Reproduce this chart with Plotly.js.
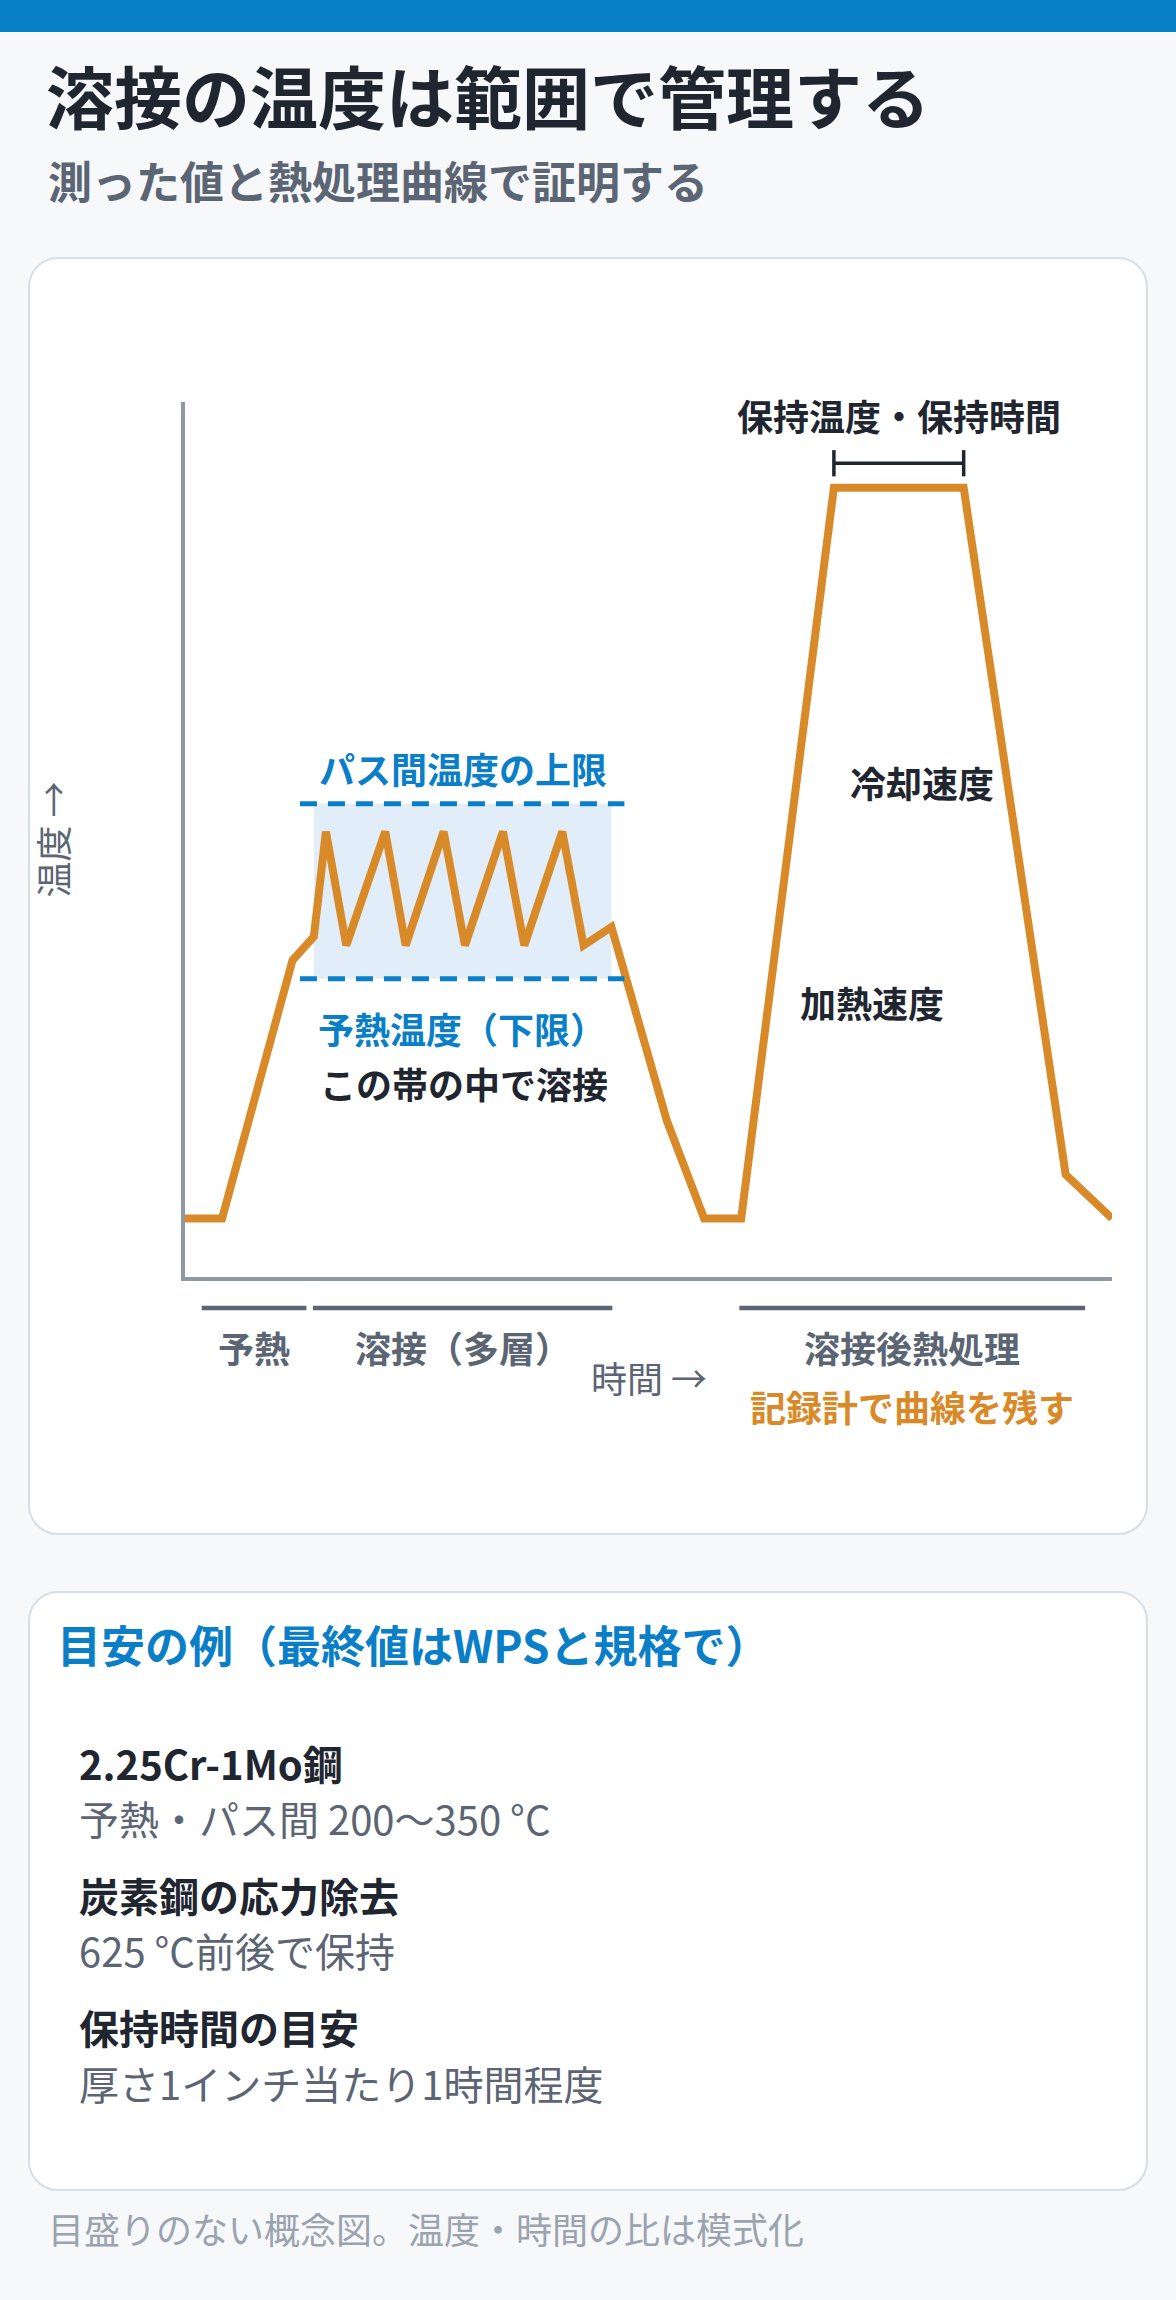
<!DOCTYPE html>
<html>
<head>
<meta charset="utf-8">
<script src="https://cdn.plot.ly/plotly-3.0.1.min.js"></script>
<style>
  html, body { margin:0; padding:0; }
  body { width:1176px; height:2300px; background:#F6F8FA; position:relative; overflow:hidden;
         font-family:"Noto Sans CJK JP","Noto Sans",sans-serif; }
  .bar { position:absolute; left:0; top:0; width:1176px; height:32px; background:#0880C8; }
  .t { position:absolute; white-space:nowrap; line-height:1; }
  .card { position:absolute; left:28px; width:1116px; background:#FFFFFF; border:2.5px solid #D6DEE6; border-radius:30px; box-sizing:content-box; }
  #chart { position:absolute; left:0; top:0; width:1176px; height:1600px; }
</style>
</head>
<body>
<div class="bar"></div>
<div class="t" id="title" style="left:46px; top:61px; font-size:68px; font-weight:700; color:#1F2630;"></div>
<div class="t" id="subtitle" style="left:48px; top:158px; font-size:44px; font-weight:700; color:#5B6573;"></div>

<div class="card" style="top:257px; height:1274px;"></div>
<div class="card" style="top:1591px; height:596px;"></div>

<div id="chart"></div>

<div class="t" id="noteHead" style="left:57px; top:1622px; font-size:44px; font-weight:700; color:#0A7FC7;"></div>
<div id="notes"></div>
<div class="t" id="footer" style="left:48px; top:2210px; font-size:36px; color:#9AA3AE;"></div>

<script>
// ---------- text content ----------
const titleText = "溶接の温度は範囲で管理する";
const subtitleText = "測った値と熱処理曲線で証明する";
const noteHeading = "目安の例（最終値はWPSと規格で）";
const noteLabels = ["2.25Cr-1Mo鋼", "炭素鋼の応力除去", "保持時間の目安"];
const noteValues = ["予熱・パス間 200〜350 °C", "625 °C前後で保持", "厚さ1インチ当たり1時間程度"];
const footerText = "目盛りのない概念図。温度・時間の比は模式化";

// ---------- chart data (conceptual, no scale) ----------
const timePts = [0, 4, 11.6, 13.9, 15.2, 17.4, 21.6, 23.8, 27.9, 30.2, 34.3, 36.6, 40.7, 43.0, 46.0, 52.0, 56.0, 60.0, 70.0, 84.0, 95.0, 100];
const tempPts = [6.7, 6.7, 36.2, 38.9, 50.9, 37.9, 50.9, 37.9, 50.9, 37.9, 50.9, 37.9, 50.9, 37.9, 40.0, 17.8, 6.7, 6.7, 90.2, 90.2, 11.7, 6.7];

const bandTime = [13.9, 46.0];        // welding window span
const bandTemp = [34.1, 54.1];        // preheat min, interpass max
const limitTime = [12.4, 47.4];       // dashed limit lines span
const holdTime = [70, 84];            // PWHT hold
const holdMarkTemp = 93.0;

const phaseNames = ["予熱", "溶接（多層）", "溶接後熱処理"];
const phaseStart = [1.8, 13.8, 59.8];
const phaseEnd = [13.1, 46.1, 97.1];

const xAxisLabel = "時間 →";
const yAxisLabel = "温度 →";

// ---------- static text ----------
document.getElementById("title").textContent = titleText;
document.getElementById("subtitle").textContent = subtitleText;
document.getElementById("noteHead").textContent = noteHeading;
document.getElementById("footer").textContent = footerText;
const labelTops = [1743, 1875, 2007];
const valueTops = [1798, 1930, 2063];
const notes = document.getElementById("notes");
noteLabels.forEach((lab, i) => {
  const a = document.createElement("div");
  a.className = "t";
  a.style.cssText = `left:79px; top:${labelTops[i]}px; font-size:40px; font-weight:700; color:#1F2630;`;
  a.textContent = lab;
  notes.appendChild(a);
  const b = document.createElement("div");
  b.className = "t";
  b.style.cssText = `left:79px; top:${valueTops[i]}px; font-size:40px; color:#5B6573;`;
  b.textContent = noteValues[i];
  notes.appendChild(b);
});

// ---------- chart ----------
const ORANGE = "#D98A28", BLUE = "#0A7FC7", DARK = "#1F2630", GRAY = "#5B6573", AXIS = "#8F99A6";
const FONT = '"Noto Sans CJK JP", "Noto Sans", sans-serif';

const trace = {
  x: timePts, y: tempPts, type: "scatter", mode: "lines",
  line: { color: ORANGE, width: 8, shape: "linear" },
  cliponaxis: false, hoverinfo: "skip"
};

const shapes = [
  { type: "rect", xref: "x", yref: "y", x0: bandTime[0], x1: bandTime[1], y0: bandTemp[0], y1: bandTemp[1],
    fillcolor: "#E1EEF9", line: { width: 0 }, layer: "below" },
  { type: "line", xref: "x", yref: "y", x0: limitTime[0], x1: limitTime[1], y0: bandTemp[1], y1: bandTemp[1],
    line: { color: BLUE, width: 5, dash: "17px,11px" } },
  { type: "line", xref: "x", yref: "y", x0: limitTime[0], x1: limitTime[1], y0: bandTemp[0], y1: bandTemp[0],
    line: { color: BLUE, width: 5, dash: "17px,11px" } },
  { type: "line", xref: "x", yref: "y", x0: holdTime[0], x1: holdTime[1], y0: holdMarkTemp, y1: holdMarkTemp,
    line: { color: DARK, width: 3.5 } },
  { type: "line", xref: "x", yref: "y", x0: holdTime[0], x1: holdTime[0], y0: holdMarkTemp - 1.5, y1: holdMarkTemp + 1.5,
    line: { color: DARK, width: 3.5 } },
  { type: "line", xref: "x", yref: "y", x0: holdTime[1], x1: holdTime[1], y0: holdMarkTemp - 1.5, y1: holdMarkTemp + 1.5,
    line: { color: DARK, width: 3.5 } }
];
phaseNames.forEach((n, i) => {
  shapes.push({ type: "line", xref: "x", yref: "paper", x0: phaseStart[i], x1: phaseEnd[i], y0: -0.0354, y1: -0.0354,
    line: { color: GRAY, width: 4.5 } });
});

function ann(text, x, y, color, opts) {
  return Object.assign({ text, x, y, xref: "x", yref: "y", showarrow: false, xanchor: "center", yanchor: "middle",
    font: { family: FONT, size: 36, color, weight: 700 } }, opts || {});
}

const annotations = [
  ann("パス間温度の上限", 30.0, 58.2, BLUE),
  ann("予熱温度（下限）", 29.9, 28.5, BLUE),
  ann("この帯の中で溶接", 30.1, 22.2, DARK),
  ann("保持温度・保持時間", (holdTime[0] + holdTime[1]) / 2, 98.5, DARK),
  ann("冷却速度", 79.5, 56.6, DARK),
  ann("加熱速度", 74.1, 31.4, DARK),
  ann(xAxisLabel, 0.5, -0.1143, GRAY, { xref: "paper", yref: "paper", font: { family: FONT, size: 36, color: GRAY, weight: 400 } }),
  ann(yAxisLabel, -0.1435, 0.5, GRAY, { xref: "paper", yref: "paper", textangle: -90, font: { family: FONT, size: 36, color: GRAY, weight: 400 } }),
  ann("記録計で曲線を残す", (phaseStart[2] + phaseEnd[2]) / 2, -0.1474, ORANGE, { yref: "paper" })
];
phaseNames.forEach((n, i) => {
  annotations.push(ann(n, (phaseStart[i] + phaseEnd[i]) / 2, -0.080, GRAY, { yref: "paper" }));
});

const axisCommon = { range: [0, 100], showline: true, linewidth: 4, linecolor: AXIS, showgrid: false,
  zeroline: false, showticklabels: false, ticks: "", fixedrange: true };

const layout = {
  width: 1176, height: 1600,
  margin: { l: 185, r: 64, t: 402, b: 323, pad: 0 },
  paper_bgcolor: "rgba(0,0,0,0)", plot_bgcolor: "rgba(0,0,0,0)",
  showlegend: false,
  font: { family: FONT },
  xaxis: Object.assign({}, axisCommon),
  yaxis: Object.assign({}, axisCommon),
  shapes, annotations
};

Plotly.newPlot("chart", [trace], layout, { displayModeBar: false, staticPlot: true });
</script>
</body>
</html>
